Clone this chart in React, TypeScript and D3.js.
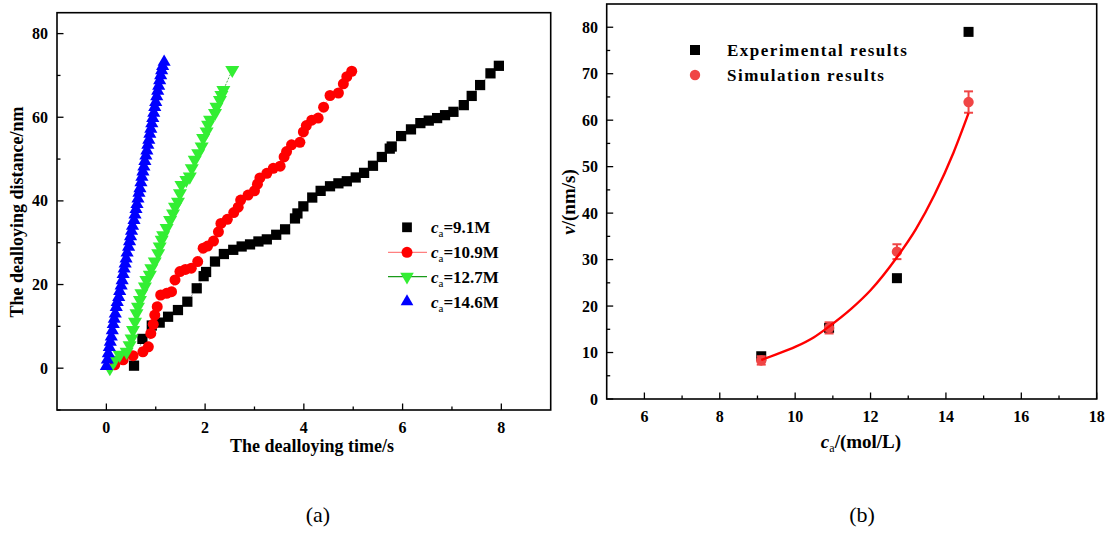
import React, { useEffect, useRef } from 'react';
import * as d3 from 'd3';

// (a) dealloying distance vs time
const ser91 = [
  [0.56, 0.6], [0.73, 7.0], [0.92, 10.2], [1.08, 10.9], [1.25, 12.3], [1.45, 13.9], [1.64, 15.9],
  [1.83, 19.1], [1.97, 22.0], [2.02, 23.0], [2.2, 25.5], [2.38, 27.3], [2.57, 28.3], [2.74, 29.1],
  [2.91, 29.6], [3.08, 30.3], [3.25, 30.8], [3.44, 31.9], [3.62, 33.2], [3.82, 35.8], [3.87, 37.0],
  [3.99, 38.7], [4.17, 40.8], [4.34, 42.4], [4.53, 43.5], [4.7, 44.2], [4.87, 44.7], [5.05, 45.6],
  [5.22, 46.7], [5.4, 48.4], [5.58, 50.5], [5.74, 52.5], [5.78, 53.0], [5.97, 55.5], [6.17, 57.1],
  [6.36, 58.6], [6.53, 59.2], [6.7, 59.8], [6.86, 60.5], [7.03, 61.3], [7.24, 62.9], [7.4, 65.1],
  [7.57, 67.7], [7.78, 70.5], [7.95, 72.3],
];
const ser109 = [
  [0.17, 0.8], [0.34, 2.0], [0.54, 3.0], [0.74, 3.9], [0.85, 5.1], [0.9, 8.3], [0.95, 10.5],
  [0.98, 12.7], [1.03, 14.7], [1.1, 17.5], [1.22, 17.9], [1.32, 18.3], [1.39, 21.1], [1.49, 23.1],
  [1.6, 23.6], [1.72, 23.9], [1.85, 25.5], [1.96, 28.7], [2.05, 29.2], [2.17, 30.4], [2.27, 32.6],
  [2.32, 34.6], [2.45, 35.6], [2.58, 37.2], [2.67, 38.5], [2.72, 40.2], [2.87, 41.4], [3.0, 42.4],
  [3.06, 44.0], [3.11, 45.5], [3.25, 46.6], [3.38, 47.8], [3.52, 48.3], [3.6, 50.5], [3.65, 51.8],
  [3.75, 53.4], [3.92, 54.0], [3.99, 56.5], [4.05, 58.0], [4.16, 59.3], [4.29, 59.8], [4.4, 62.4],
  [4.53, 65.2], [4.7, 65.8], [4.8, 68.0], [4.87, 69.7], [4.97, 71.0],
];
const ser127 = [
  [0.07, 0.0], [0.17, 2.0], [0.27, 3.2], [0.41, 3.9], [0.47, 5.5], [0.51, 7.1], [0.54, 9.1],
  [0.58, 11.1], [0.61, 13.1], [0.64, 14.7], [0.68, 16.3], [0.71, 17.9], [0.78, 19.5], [0.81, 21.1],
  [0.88, 22.3], [0.91, 23.9], [0.98, 25.5], [1.05, 27.5], [1.08, 29.1], [1.12, 30.7], [1.15, 31.8],
  [1.22, 33.5], [1.29, 35.4], [1.35, 37.0], [1.39, 38.6], [1.45, 39.8], [1.49, 41.8], [1.52, 43.8],
  [1.62, 45.0], [1.69, 45.8], [1.73, 47.8], [1.79, 49.8], [1.86, 51.4], [1.93, 53.0], [1.96, 55.0],
  [2.03, 56.6], [2.06, 58.2], [2.1, 59.4], [2.2, 61.0], [2.23, 62.5], [2.3, 64.1], [2.33, 65.3],
  [2.37, 66.5], [2.55, 71.3],
];
const ser146 = [
  [0.0, 0.5], [0.02, 2.0], [0.04, 3.5], [0.06, 5.0], [0.08, 6.3], [0.1, 7.5], [0.12, 9.0],
  [0.14, 10.5], [0.16, 11.8], [0.18, 13.0], [0.2, 14.6], [0.22, 15.8], [0.25, 17.0], [0.27, 18.4],
  [0.3, 19.7], [0.32, 21.0], [0.34, 22.5], [0.36, 23.8], [0.38, 25.0], [0.4, 26.2], [0.42, 27.6],
  [0.45, 29.0], [0.47, 30.3], [0.49, 31.5], [0.51, 32.8], [0.53, 34.0], [0.56, 35.4], [0.58, 36.7],
  [0.6, 38.0], [0.62, 39.2], [0.64, 40.5], [0.66, 41.9], [0.68, 43.0], [0.7, 44.4], [0.72, 45.7],
  [0.74, 47.0], [0.76, 48.2], [0.78, 49.5], [0.8, 50.8], [0.82, 52.0], [0.84, 53.4], [0.86, 54.6],
  [0.88, 56.0], [0.9, 57.2], [0.92, 58.5], [0.94, 59.8], [0.96, 61.0], [0.98, 62.4], [1.0, 63.6],
  [1.02, 65.0], [1.04, 66.3], [1.06, 67.5], [1.08, 68.8], [1.1, 70.0], [1.12, 71.2], [1.14, 72.2],
  [1.17, 73.2],
];
const legendA = ['9.1M', '10.9M', '12.7M', '14.6M'];

// (b) velocity vs concentration
const concs = [9.1, 10.9, 12.7, 14.6];
const expVals = [9.2, 15.3, 26.0, 79.0];
const simVals = [8.3, 15.3, 31.7, 63.9];
const simErr = [0.9, 1.2, 1.6, 2.3];
const fitPts = [
  [9.1, 8.4], [9.5, 9.6], [10, 11.2], [10.5, 13.3], [10.9, 15.6], [11.5, 19.5], [12, 23.4],
  [12.7, 30.5], [13.2, 36.5], [13.7, 44], [14.2, 53], [14.6, 61.5],
];

const FONT = "'Times New Roman', 'Liberation Serif', serif";

function frame(g, x, y, xMajor, xMinor, yMajor, yMinor, xLabelY, yLabelX) {
  const [x0, x1] = x.range();
  const [y0, y1] = y.range();
  g.append('rect').attr('x', x0).attr('y', y1).attr('width', x1 - x0).attr('height', y0 - y1)
    .attr('fill', 'none').attr('stroke', '#000').attr('stroke-width', 1.6);
  xMinor.forEach((v) => g.append('line').attr('x1', x(v)).attr('x2', x(v)).attr('y1', y0).attr('y2', y0 - 3.5).attr('stroke', '#000').attr('stroke-width', 1.3));
  xMajor.forEach((v) => {
    g.append('line').attr('x1', x(v)).attr('x2', x(v)).attr('y1', y0).attr('y2', y0 - 6.5).attr('stroke', '#000').attr('stroke-width', 1.3);
    g.append('text').attr('x', x(v)).attr('y', xLabelY).attr('text-anchor', 'middle')
      .attr('font-family', FONT).attr('font-weight', 'bold').attr('font-size', 16).text(v);
  });
  yMinor.forEach((v) => g.append('line').attr('x1', x0).attr('x2', x0 + 3.5).attr('y1', y(v)).attr('y2', y(v)).attr('stroke', '#000').attr('stroke-width', 1.3));
  yMajor.forEach((v) => {
    g.append('line').attr('x1', x0).attr('x2', x0 + 6.5).attr('y1', y(v)).attr('y2', y(v)).attr('stroke', '#000').attr('stroke-width', 1.3);
    g.append('text').attr('x', yLabelX).attr('y', y(v)).attr('dy', '0.35em').attr('text-anchor', 'end')
      .attr('font-family', FONT).attr('font-weight', 'bold').attr('font-size', 16).text(v);
  });
}

const App = () => {
  const ref = useRef(null);

  useEffect(() => {
    const svg = d3.select(ref.current);
    svg.selectAll('*').remove();

    // ---------- panel (a)
    const xa = d3.scaleLinear().domain([-1, 9]).range([57, 550.7]);
    const ya = d3.scaleLinear().domain([-10, 85]).range([410, 12.7]);
    const ga = svg.append('g');
    frame(ga, xa, ya, [0, 2, 4, 6, 8], [1, 3, 5, 7], [0, 20, 40, 60, 80], [-10, 10, 30, 50, 70], 433, 48);

    const seriesA = [
      { data: ser91, color: '#000000', line: '#777777', sym: d3.symbolSquare, size: 105, rot: 0, leg: 95 },
      { data: ser109, color: '#ff0000', line: '#ff8080', sym: d3.symbolCircle, size: 95, rot: 0, leg: 95 },
      { data: ser127, color: '#33ee33', line: '#1a9a1a', sym: d3.symbolTriangle, size: 85, rot: 180, leg: 80 },
      { data: ser146, color: '#0000ff', line: '#0000ff', sym: d3.symbolTriangle, size: 75, rot: 0, leg: 70 },
    ];
    const lineA = d3.line().x((d) => xa(d[0])).y((d) => ya(d[1]));
    seriesA.forEach((s) => {
      ga.append('path').attr('d', lineA(s.data)).attr('fill', 'none').attr('stroke', s.line)
        .attr('stroke-width', 0.8).attr('stroke-dasharray', '2,1.5');
      ga.selectAll(null).data(s.data).enter().append('path')
        .attr('d', d3.symbol().type(s.sym).size(s.size))
        .attr('transform', (d) => `translate(${xa(d[0])},${ya(d[1])}) rotate(${s.rot})`)
        .attr('fill', s.color);
    });

    // legend (a)
    const legRows = [227.3, 252.3, 276.7, 301.7];
    seriesA.forEach((s, i) => {
      const ly = legRows[i];
      if (i === 1 || i === 2) {
        ga.append('line').attr('x1', 388).attr('x2', 427).attr('y1', ly).attr('y2', ly)
          .attr('stroke', s.line).attr('stroke-width', 1.3);
      }
      ga.append('path').attr('d', d3.symbol().type(s.sym).size(s.leg))
        .attr('transform', `translate(407,${ly}) rotate(${s.rot})`).attr('fill', s.color);
      const t = ga.append('text').attr('x', 431).attr('y', ly + 6)
        .attr('font-family', FONT).attr('font-weight', 'bold').attr('font-size', 17);
      t.append('tspan').attr('font-style', 'italic').text('c');
      t.append('tspan').attr('font-size', 11).attr('font-weight', 'normal').attr('dy', 4).text('a');
      t.append('tspan').attr('dy', -4).text('=' + legendA[i]);
    });

    ga.append('text').attr('x', 312).attr('y', 452).attr('text-anchor', 'middle')
      .attr('font-family', FONT).attr('font-weight', 'bold').attr('font-size', 18)
      .text('The dealloying time/s');
    ga.append('text').attr('transform', 'translate(23,212) rotate(-90)').attr('text-anchor', 'middle')
      .attr('font-family', FONT).attr('font-weight', 'bold').attr('font-size', 18)
      .text('The dealloying distance/nm');

    // ---------- panel (b)
    const xb = d3.scaleLinear().domain([5, 18]).range([606.7, 1096.7]);
    const yb = d3.scaleLinear().domain([0, 85]).range([399, 4]);
    const gb = svg.append('g');
    frame(gb, xb, yb, [6, 8, 10, 12, 14, 16, 18], [7, 9, 11, 13, 15, 17],
      [0, 10, 20, 30, 40, 50, 60, 70, 80], [5, 15, 25, 35, 45, 55, 65, 75], 422, 598);

    const exp = concs.map((c, i) => [c, expVals[i]]);
    const sim = concs.map((c, i) => [c, simVals[i], simErr[i]]);

    gb.selectAll(null).data(exp).enter().append('rect')
      .attr('x', (d) => xb(d[0]) - 5).attr('y', (d) => yb(d[1]) - 5)
      .attr('width', 10).attr('height', 10).attr('fill', '#000');

    const simG = gb.selectAll(null).data(sim).enter().append('g').attr('stroke', '#f04545').attr('stroke-width', 2);
    simG.append('line').attr('x1', (d) => xb(d[0])).attr('x2', (d) => xb(d[0]))
      .attr('y1', (d) => yb(d[1] - d[2])).attr('y2', (d) => yb(d[1] + d[2]));
    simG.append('line').attr('x1', (d) => xb(d[0]) - 4.5).attr('x2', (d) => xb(d[0]) + 4.5)
      .attr('y1', (d) => yb(d[1] - d[2])).attr('y2', (d) => yb(d[1] - d[2]));
    simG.append('line').attr('x1', (d) => xb(d[0]) - 4.5).attr('x2', (d) => xb(d[0]) + 4.5)
      .attr('y1', (d) => yb(d[1] + d[2])).attr('y2', (d) => yb(d[1] + d[2]));
    gb.selectAll(null).data(sim).enter().append('circle')
      .attr('cx', (d) => xb(d[0])).attr('cy', (d) => yb(d[1])).attr('r', 5.2).attr('fill', '#f04545');

    const fitLine = d3.line().x((d) => xb(d[0])).y((d) => yb(d[1])).curve(d3.curveMonotoneX);
    gb.append('path').attr('d', fitLine(fitPts)).attr('fill', 'none').attr('stroke', '#ff0000').attr('stroke-width', 2.4);

    // legend (b)
    gb.append('rect').attr('x', 690).attr('y', 45).attr('width', 10).attr('height', 10).attr('fill', '#000');
    gb.append('circle').attr('cx', 695).attr('cy', 75).attr('r', 5.2).attr('fill', '#f04545');
    [['Experimental results', 50], ['Simulation results', 75]].forEach(([txt, ly]) => {
      gb.append('text').attr('x', 727).attr('y', ly).attr('dy', '0.35em')
        .attr('font-family', FONT).attr('font-weight', 'bold').attr('font-size', 17)
        .attr('letter-spacing', 1.5).text(txt);
    });

    const xl = gb.append('text').attr('x', 861).attr('y', 448).attr('text-anchor', 'middle')
      .attr('font-family', FONT).attr('font-weight', 'bold').attr('font-size', 19);
    xl.append('tspan').attr('font-style', 'italic').text('c');
    xl.append('tspan').attr('font-size', 12).attr('font-weight', 'normal').attr('dy', 4).text('a');
    xl.append('tspan').attr('dy', -4).text('/(mol/L)');

    const yl = gb.append('text').attr('transform', 'translate(575,202) rotate(-90)').attr('text-anchor', 'middle')
      .attr('font-family', FONT).attr('font-weight', 'bold').attr('font-size', 19);
    yl.append('tspan').attr('font-style', 'italic').text('v');
    yl.append('tspan').text('/(nm/s)');

    // captions
    svg.append('text').attr('x', 318).attr('y', 522).attr('text-anchor', 'middle')
      .attr('font-family', FONT).attr('font-size', 22).text('(a)');
    svg.append('text').attr('x', 862).attr('y', 522).attr('text-anchor', 'middle')
      .attr('font-family', FONT).attr('font-size', 22).text('(b)');
  }, []);

  return (
    <svg ref={ref} width={1105} height={535}
      style={{ position: 'absolute', left: 0, top: 0, background: '#fff' }} />
  );
};

export default App;
